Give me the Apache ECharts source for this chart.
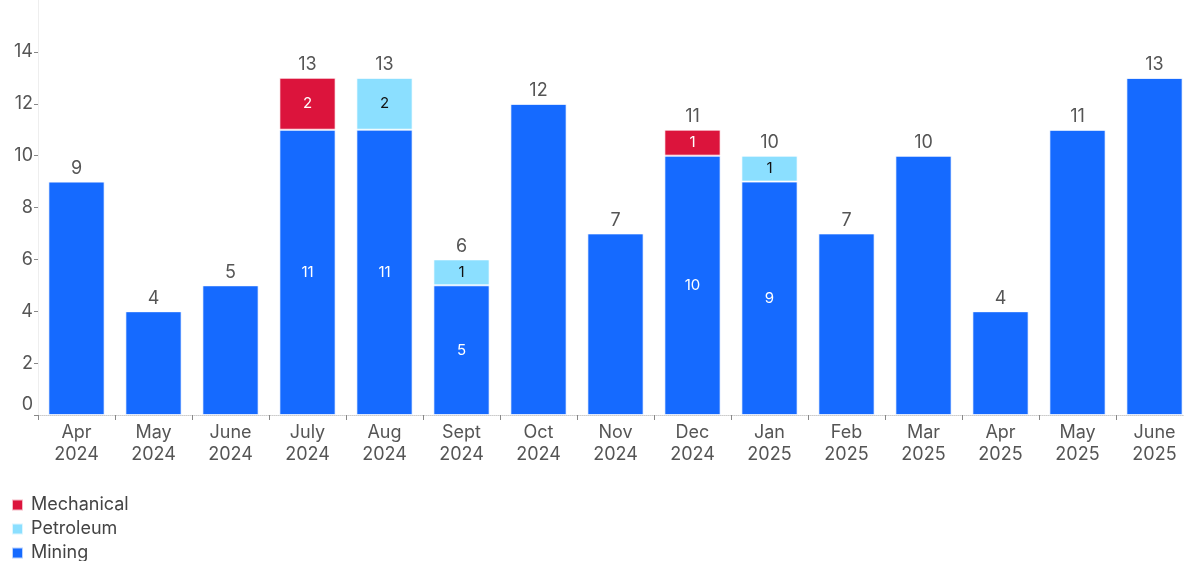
<!DOCTYPE html>
<html>
<head>
<meta charset="utf-8">
<script src="https://cdn.jsdelivr.net/npm/echarts@6/dist/echarts.min.js"></script>
<style>
  html, body { margin: 0; padding: 0; background: #fff; }
  #main { width: 1184px; height: 561px; }
</style>
</head>
<body>
<div id="main"></div>
<script>
var months = ['Apr\n2024', 'May\n2024', 'June\n2024', 'July\n2024', 'Aug\n2024', 'Sept\n2024', 'Oct\n2024',
  'Nov\n2024', 'Dec\n2024', 'Jan\n2025', 'Feb\n2025', 'Mar\n2025', 'Apr\n2025', 'May\n2025', 'June\n2025'];
var mining = [9, 4, 5, 11, 11, 5, 12, 7, 10, 9, 7, 10, 4, 11, 13];
var petroleum = [0, 0, 0, 0, 2, 1, 0, 0, 0, 1, 0, 0, 0, 0, 0];
var mechanical = [0, 0, 0, 2, 0, 0, 0, 0, 1, 0, 0, 0, 0, 0, 0];
var yTicks = [0, 2, 4, 6, 8, 10, 12, 14];

var totals = mining.map(function (v, i) { return v + petroleum[i] + mechanical[i]; });

var chartDom = document.getElementById('main');
var myChart = echarts.init(chartDom);
var font = 'Inter, "Noto Sans", sans-serif';
var border = { borderColor: 'rgba(255,255,255,0.7)', borderWidth: 1 };

var option = {
  animation: false,
  textStyle: { fontFamily: font },
  legend: {
    data: ['Mechanical', 'Petroleum', 'Mining'],
    orient: 'vertical',
    left: 6,
    bottom: -6,
    itemWidth: 11,
    itemHeight: 11,
    itemGap: 6,
    icon: 'rect',
    textStyle: { fontSize: 18, color: '#444', fontFamily: font, padding: [0, 0, 0, 3] }
  },
  grid: { left: 38, width: 1155, top: 0, bottom: 146, containLabel: false, outerBoundsMode: 'none' },
  xAxis: {
    type: 'category',
    data: months,
    axisLine: { lineStyle: { color: '#ccc', type: 'dotted' } },
    axisTick: { show: true, length: 5, lineStyle: { color: '#888' } },
    axisLabel: { fontSize: 18, color: '#555', lineHeight: 22, margin: 7 }
  },
  yAxis: {
    type: 'value',
    min: 0,
    max: 16,
    interval: 2,
    splitLine: { show: false },
    axisLine: { show: true, lineStyle: { color: '#eee' } },
    axisTick: { show: true, length: 4, lineStyle: { color: '#888' }, customValues: yTicks },
    axisLabel: {
      fontSize: 18,
      color: '#555',
      margin: 5,
      customValues: yTicks,
      formatter: function (v) { return v === 0 ? '{z|0}' : String(v); },
      rich: { z: { fontSize: 18, color: '#555', padding: [0, 0, 20, 0] } }
    }
  },
  series: [
    {
      name: 'Mining',
      type: 'bar',
      stack: 'all',
      barWidth: '73%',
      data: mining,
      itemStyle: Object.assign({ color: '#156AFF' }, border),
      label: {
        show: true,
        position: 'inside',
        color: '#fff',
        fontSize: 15,
        formatter: function (p) {
          var i = p.dataIndex;
          return (petroleum[i] || mechanical[i]) ? String(p.value) : '';
        }
      }
    },
    {
      name: 'Petroleum',
      type: 'bar',
      stack: 'all',
      data: petroleum,
      itemStyle: Object.assign({ color: '#8BDFFF' }, border),
      label: {
        show: true,
        position: 'inside',
        color: '#111',
        fontSize: 15,
        formatter: function (p) { return p.value ? String(p.value) : ''; }
      }
    },
    {
      name: 'Mechanical',
      type: 'bar',
      stack: 'all',
      data: mechanical,
      itemStyle: Object.assign({ color: '#DC143C' }, border),
      label: {
        show: true,
        position: 'inside',
        color: '#fff',
        fontSize: 15,
        formatter: function (p) { return p.value ? String(p.value) : ''; }
      }
    },
    {
      name: 'Total',
      type: 'bar',
      stack: 'all',
      data: totals.map(function () { return 0; }),
      itemStyle: { color: 'transparent', borderWidth: 0 },
      label: {
        show: true,
        position: 'top',
        distance: 4,
        color: '#555',
        fontSize: 18,
        formatter: function (p) { return String(totals[p.dataIndex]); }
      },
      tooltip: { show: false }
    }
  ]
};

option && myChart.setOption(option);
</script>
</body>
</html>
